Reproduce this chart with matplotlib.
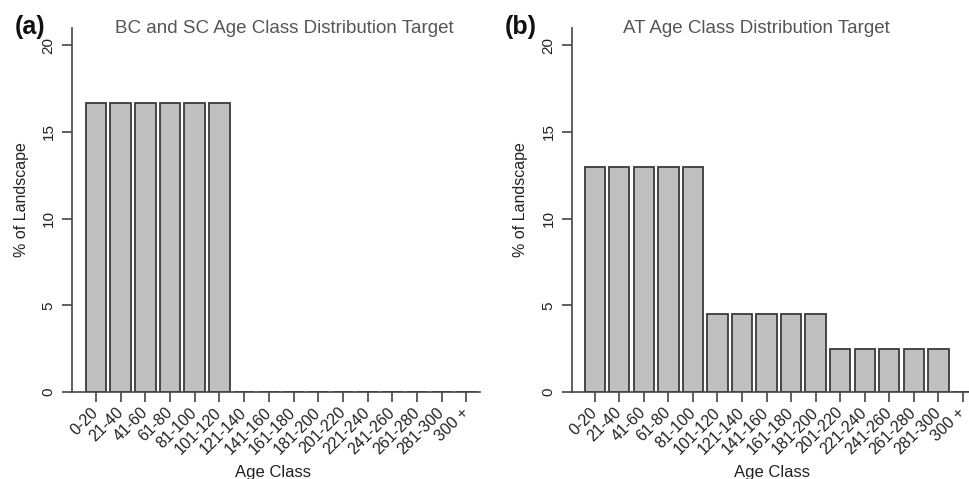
import matplotlib
matplotlib.use("Agg")
import matplotlib.pyplot as plt

plt.rcParams["font.family"] = ["Liberation Sans", "DejaVu Sans"]

# ── Dados ─────────────────────────────────────────────────────────────────────
classes = ["0-20", "21-40", "41-60", "61-80", "81-100", "101-120", "121-140",
           "141-160", "161-180", "181-200", "201-220", "221-240", "241-260",
           "261-280", "281-300", "300 +"]
bc_sc = [16.67, 16.67, 16.67, 16.67, 16.67, 16.67, 0, 0,
         0, 0, 0, 0, 0, 0, 0, 0]
at_vals = [13, 13, 13, 13, 13, 4.5, 4.5, 4.5,
           4.5, 4.5, 2.5, 2.5, 2.5, 2.5, 2.5, 0]
y_ticks = [0, 5, 10, 15, 20]

titulos = ["BC and SC Age Class Distribution Target",
           "AT Age Class Distribution Target"]
letras = ["(a)", "(b)"]

# ── Figura ────────────────────────────────────────────────────────────────────
fig = plt.figure(figsize=(9.69, 4.79), dpi=100)

paineis = [
    # (rect, xlim, ylabel x, xlabel x, title x, letter x, valores)
    ([0.074, 0.1816, 0.4214, 0.76], (-0.98, 15.55), -0.122, 0.494, 0.2936, 0.0155, bc_sc),
    ([0.590, 0.1816, 0.4100, 0.76], (-0.94, 15.25), -0.130, 0.503, 0.7810, 0.5210, at_vals),
]

cor_eixo = "#444444"
for i, (rect, xlim, ylx, xlx, tx, lx, vals) in enumerate(paineis):
    ax = fig.add_axes(rect)
    x = list(range(len(classes)))
    ax.bar(x, vals, width=0.83, color="#c0c0c0", edgecolor="#3a3a3a",
           linewidth=1.3, zorder=2)

    ax.set_xlim(*xlim)
    ax.set_ylim(0, 21)
    for s in ["top", "right"]:
        ax.spines[s].set_visible(False)
    for s in ["left", "bottom"]:
        ax.spines[s].set_color(cor_eixo)
        ax.spines[s].set_linewidth(1.2)

    ax.set_yticks(y_ticks)
    ax.set_yticklabels([str(v) for v in y_ticks], rotation=90, va="center",
                       fontsize=11, color="#222222")
    ax.tick_params(axis="y", length=7.5, width=1.2, color=cor_eixo, pad=4)

    ax.set_xticks(x)
    ax.set_xticklabels(classes, rotation=45, ha="right", va="center",
                       rotation_mode="anchor", fontsize=11.5, color="#222222")
    ax.tick_params(axis="x", length=7, width=1.2, color=cor_eixo, pad=6)

    ax.set_ylabel("% of Landscape", fontsize=11.5, color="#222222", va="center")
    ax.yaxis.set_label_coords(ylx, 0.53)
    ax.set_xlabel("Age Class", fontsize=12, color="#222222", va="center")
    ax.xaxis.set_label_coords(xlx, -0.22)

    fig.text(tx, 0.9415, titulos[i], ha="center", va="center",
             fontsize=13.5, color="#555555")
    fig.text(lx, 0.944, letras[i], ha="left", va="center",
             fontsize=18, fontweight="bold", color="#111111")

fig.savefig("out.png", dpi=100)
